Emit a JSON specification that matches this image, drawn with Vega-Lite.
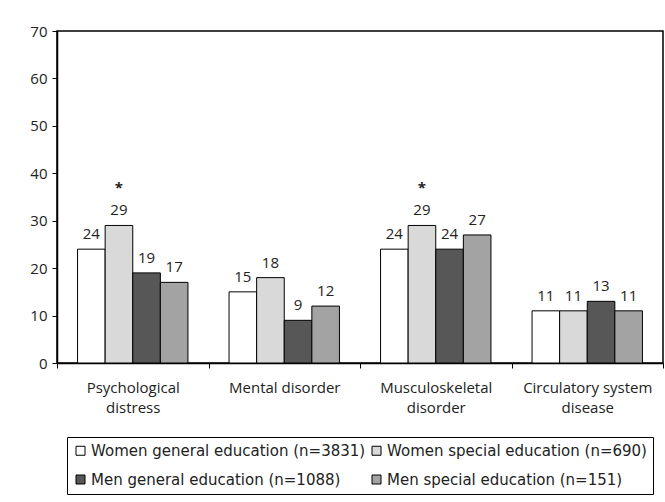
{
  "$schema": "https://vega.github.io/schema/vega-lite/v6.json",
  "autosize": {"type": "none"},
  "padding": {"left": 57, "top": 31, "right": 2, "bottom": 139},
  "width": 606,
  "height": 332,
  "background": "white",
  "config": {
    "font": "Open Sans",
    "view": {"stroke": "black", "strokeWidth": 1.5},
    "axis": {"labelFont": "Open Sans", "labelFontSize": 15, "labelColor": "#222", "domainColor": "black", "tickColor": "black", "grid": false}
  },
  "data": {"values": [
    {"category": "Psychological distress", "group": "Women general education (n=3831)", "value": 24, "star": ""},
    {"category": "Psychological distress", "group": "Women special education (n=690)", "value": 29, "star": "*"},
    {"category": "Psychological distress", "group": "Men general education (n=1088)", "value": 19, "star": ""},
    {"category": "Psychological distress", "group": "Men special education (n=151)", "value": 17, "star": ""},
    {"category": "Mental disorder", "group": "Women general education (n=3831)", "value": 15, "star": ""},
    {"category": "Mental disorder", "group": "Women special education (n=690)", "value": 18, "star": ""},
    {"category": "Mental disorder", "group": "Men general education (n=1088)", "value": 9, "star": ""},
    {"category": "Mental disorder", "group": "Men special education (n=151)", "value": 12, "star": ""},
    {"category": "Musculoskeletal disorder", "group": "Women general education (n=3831)", "value": 24, "star": ""},
    {"category": "Musculoskeletal disorder", "group": "Women special education (n=690)", "value": 29, "star": "*"},
    {"category": "Musculoskeletal disorder", "group": "Men general education (n=1088)", "value": 24, "star": ""},
    {"category": "Musculoskeletal disorder", "group": "Men special education (n=151)", "value": 27, "star": ""},
    {"category": "Circulatory system disease", "group": "Women general education (n=3831)", "value": 11, "star": ""},
    {"category": "Circulatory system disease", "group": "Women special education (n=690)", "value": 11, "star": ""},
    {"category": "Circulatory system disease", "group": "Men general education (n=1088)", "value": 13, "star": ""},
    {"category": "Circulatory system disease", "group": "Men special education (n=151)", "value": 11, "star": ""}
  ]},
  "encoding": {
    "x": {
      "field": "category", "type": "nominal", "sort": null,
      "scale": {"paddingInner": 0, "paddingOuter": 0},
      "axis": {
        "title": null, "labelAngle": 0, "tickBand": "extent", "tickSize": 5, "domainWidth": 1.5,
        "labelPadding": 12, "labelBaseline": "top", "labelLineHeight": 20,
        "labelExpr": "datum.label == 'Psychological distress' ? ['Psychological', 'distress'] : datum.label == 'Musculoskeletal disorder' ? ['Musculoskeletal', 'disorder'] : datum.label == 'Circulatory system disease' ? ['Circulatory system', 'disease'] : datum.label"
      }
    },
    "xOffset": {
      "field": "group", "type": "nominal", "sort": null,
      "scale": {"paddingInner": 0, "paddingOuter": 0.745}
    },
    "y": {
      "field": "value", "type": "quantitative",
      "scale": {"domain": [0, 70], "nice": false},
      "axis": {"title": null, "values": [0, 10, 20, 30, 40, 50, 60, 70], "tickSize": 5, "domainWidth": 1.5, "labelPadding": 5}
    }
  },
  "layer": [
    {
      "mark": {"type": "bar", "stroke": "black", "strokeWidth": 1},
      "encoding": {
        "fill": {
          "field": "group", "type": "nominal", "sort": null,
          "scale": {
            "domain": ["Women general education (n=3831)", "Women special education (n=690)", "Men general education (n=1088)", "Men special education (n=151)"],
            "range": ["#ffffff", "#d9d9d9", "#575757", "#a3a3a3"]
          },
          "legend": {
            "title": null, "orient": "none", "legendX": 10, "legendY": 406,
            "direction": "horizontal", "columns": 2,
            "strokeColor": "black", "padding": 6,
            "symbolType": "square", "symbolSize": 81, "symbolStrokeColor": "black", "symbolStrokeWidth": 1,
            "labelFont": "DejaVu Sans", "labelFontSize": 15, "labelColor": "#222", "labelLimit": 400, "labelOffset": 3,
            "rowPadding": 13, "columnPadding": 3
          }
        }
      }
    },
    {
      "mark": {"type": "text", "baseline": "alphabetic", "dy": -10, "fontSize": 15, "color": "#222"},
      "encoding": {"text": {"field": "value", "type": "quantitative"}}
    },
    {
      "mark": {"type": "text", "baseline": "alphabetic", "dy": -32, "fontSize": 15, "fontWeight": "bold", "color": "#222"},
      "encoding": {"text": {"field": "star", "type": "nominal"}}
    }
  ]
}
